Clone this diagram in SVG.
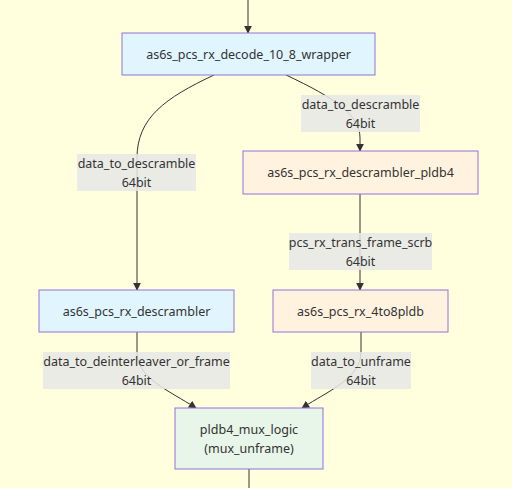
<svg xmlns="http://www.w3.org/2000/svg" width="512" height="488" viewBox="0 0 512 488">
<style>
text{font-family:"Noto Sans","Open Sans","DejaVu Sans",sans-serif;font-size:12.5px;fill:#333;text-anchor:middle;dominant-baseline:central}
.n rect{stroke:#9370db;stroke-width:1}
.blue{fill:#e1f5fe}.org{fill:#fff3e0}.grn{fill:#e8f5e9}
.e{fill:none;stroke:#333;stroke-width:1}
.lb{fill:#e8e8e8;opacity:0.85}
</style>
<defs>
<marker id="ah" viewBox="0 0 10 10" refX="9" refY="5" markerWidth="8" markerHeight="8" markerUnits="userSpaceOnUse" orient="auto">
<path d="M0,0 L10,5 L0,10 z" fill="#333"/>
</marker>
</defs>
<rect width="512" height="488" fill="#ffffde"/>
<g id="connectors">
<path class="e" d="M248,0 L248,33" marker-end="url(#ah)"/>
<path class="e" d="M214,75 C165,98 137,118 137,158 L137,290" marker-end="url(#ah)"/>
<path class="e" d="M286,75 C335,98 360,115 360,138 L360,151" marker-end="url(#ah)"/>
<path class="e" d="M360,194 L360,290" marker-end="url(#ah)"/>
<path class="e" d="M137,332 L137,352 C137,378 168,390 196,408" marker-end="url(#ah)"/>
<path class="e" d="M361,332 L361,352 C361,378 330,390 302,408" marker-end="url(#ah)"/>
<path class="e" d="M249,469 L249,488"/>
</g>
<g id="edge-labels">
<g id="l1"><rect class="lb" x="77" y="154" width="119" height="37"/><text x="136.5" y="163">data_to_descramble</text><text x="136.5" y="182">64bit</text></g>
<g id="l2"><rect class="lb" x="301" y="95" width="119" height="37"/><text x="360.5" y="104">data_to_descramble</text><text x="360.5" y="123">64bit</text></g>
<g id="l3"><rect class="lb" x="289" y="233" width="143" height="37"/><text x="360.5" y="242">pcs_rx_trans_frame_scrb</text><text x="360.5" y="261">64bit</text></g>
<g id="l4"><rect class="lb" x="43" y="352" width="187" height="37"/><text x="136.5" y="361">data_to_deinterleaver_or_frame</text><text x="136.5" y="380">64bit</text></g>
<g id="l5"><rect class="lb" x="311" y="352" width="100" height="37"/><text x="361" y="361">data_to_unframe</text><text x="361" y="380">64bit</text></g>
</g>
<g id="wrapper" class="n"><rect class="blue" x="122" y="33" width="253" height="42"/><text x="248.5" y="54">as6s_pcs_rx_decode_10_8_wrapper</text></g>
<g id="descrambler_pldb4" class="n"><rect class="org" x="243" y="151" width="235" height="43"/><text x="360.5" y="172.5">as6s_pcs_rx_descrambler_pldb4</text></g>
<g id="descrambler" class="n"><rect class="blue" x="39" y="290" width="195" height="42"/><text x="136.5" y="311">as6s_pcs_rx_descrambler</text></g>
<g id="pldb4to8" class="n"><rect class="org" x="273" y="290" width="175" height="42"/><text x="360.5" y="311">as6s_pcs_rx_4to8pldb</text></g>
<g id="mux" class="n"><rect class="grn" x="175" y="408" width="148" height="61"/><text x="249" y="429">pldb4_mux_logic</text><text x="249" y="448">(mux_unframe)</text></g>
</svg>
